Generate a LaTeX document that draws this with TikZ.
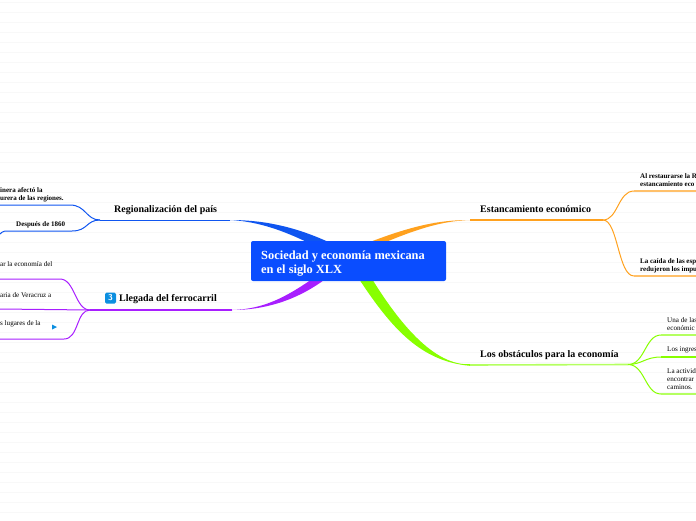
\documentclass[tikz,border=0pt]{standalone}
\usepackage{fontspec}
\setmainfont{Liberation Serif}
\definecolor{rulecol}{HTML}{F8F8F8}
\definecolor{rootcol}{HTML}{0A4DFF}
\definecolor{bluecol}{HTML}{0F55F0}
\definecolor{orangecol}{HTML}{FFA11E}
\definecolor{orangesoft}{HTML}{FFC06A}
\definecolor{purplecol}{HTML}{A81EFF}
\definecolor{greencol}{HTML}{88FF00}
\definecolor{greensoft}{HTML}{B4FF60}
\definecolor{iconcol}{HTML}{0C8FE0}
\tikzset{
  treenode/.style = {inner sep=0pt, align=left, text=black},
  root_node/.style = {treenode, rectangle, fill=rootcol, rounded corners=2pt,
    minimum width=195pt, minimum height=40pt},% caja central
  root_text/.style = {treenode, text=white, font=\fontsize{12.4}{14}\selectfont\bfseries},
  topic_node/.style = {treenode, anchor=base west, font=\fontsize{10}{12}\selectfont\bfseries},
  bold_leaf/.style = {treenode, anchor=base west, font=\fontsize{7}{8}\selectfont\bfseries},
  thin_leaf/.style = {treenode, anchor=base west, font=\fontsize{7.1}{8}\selectfont},
  sub_line/.style = {line width=1pt},
  icon_node/.style = {inner sep=0pt, fill=iconcol, rounded corners=1.5pt, text=white,
    minimum width=11pt, minimum height=11pt, font=\fontsize{8.5}{9}\selectfont\bfseries\sffamily}
}
\begin{document}
\begin{tikzpicture}[x=1pt, y=-1pt]
    \useasboundingbox (0,0) rectangle (696,520);
    \clip (0,0) rectangle (696,520);
    % lineas de fondo
    \foreach \y in {0,...,51} {
      \draw [rulecol, line width=0.8pt] (0,2.5+10*\y) -- (696,2.5+10*\y);
    }
    % puntos de paso
    \coordinate (reg_in) at (230,220);
    \coordinate (reg_out) at (100,220);
    \coordinate (reg_a) at (0,205);
    \coordinate (reg_b) at (0,234);
    \coordinate (ferro_in) at (232,310);
    \coordinate (ferro_out) at (90,310);
    \coordinate (ferro_a) at (0,279);
    \coordinate (ferro_b) at (0,309);
    \coordinate (ferro_c) at (0,339);
    \coordinate (est_in) at (470,220);
    \coordinate (est_out) at (603,220);
    \coordinate (est_a) at (696,191);
    \coordinate (est_b) at (696,276);
    \coordinate (obs_in) at (470,365);
    \coordinate (obs_out) at (628,364.5);
    \coordinate (obs_a) at (696,335);
    \coordinate (obs_b) at (696,357);
    \coordinate (obs_c) at (696,394);
    % ramas gruesas
    \fill [bluecol] (reg_in) .. controls (275,220) and (310,232) .. (345,250)
      -- (345,262) .. controls (305,240) and (270,222) .. (reg_in);
    \fill [orangecol] (est_in) .. controls (440,220) and (410,225) .. (350,250)
      -- (350,258) .. controls (410,230) and (440,221) .. (est_in);
    \fill [purplecol] (ferro_in) .. controls (265,309) and (290,297) .. (335,262)
      -- (345,262) .. controls (310,297) and (270,310) .. (ferro_in);
    \fill [greencol] ([yshift=-0.8pt]obs_in) .. controls (415,361) and (385,320) .. (348,262)
      -- (362,262) .. controls (398,325) and (435,366) .. ([yshift=0.8pt]obs_in) -- cycle;
    \node [root_node] (root) at (348.5,261) {};
    \node [root_text, anchor=base west] (root_a) at (261,259) {Sociedad y economía mexicana};
    \node [root_text, anchor=base west] (root_b) at (261,273) {en el siglo XLX};
    % rama azul
    \draw [bluecol, sub_line] (reg_in) -- (reg_out);
    \draw [bluecol, sub_line] (reg_out) .. controls (86,220) and (86,205) .. (70,205) -- (reg_a);
    \draw [bluecol, sub_line] (reg_out) .. controls (86,220) and (88,231) .. (72,231) -- (5,231)
      .. controls (2,231) and (2,233) .. (reg_b);
    % rama morada
    \draw [purplecol, line width=1.2pt] (ferro_in) -- (ferro_out);
    \draw [purplecol, sub_line] (ferro_out) .. controls (75,310) and (75,279) .. (60,279) -- (ferro_a);
    \draw [purplecol, sub_line] (ferro_out) -- (ferro_b);
    \draw [purplecol, sub_line] (ferro_out) .. controls (76,310) and (79,339) .. (64,339) -- (ferro_c);
    % rama naranja
    \draw [orangecol, line width=1.2pt] (est_in) -- (est_out);
    \draw [orangecol, sub_line] (est_out) .. controls (618,220) and (618,191) .. (634,191);
    \draw [orangesoft, line width=1.4pt] (634,191) -- (est_a);
    \draw [orangecol, sub_line] (est_out) .. controls (618,220) and (618,276) .. (634,276);
    \draw [orangesoft, line width=1.4pt] (634,276) -- (est_b);
    % rama verde
    \draw [greensoft, line width=1.6pt] (obs_in) -- (obs_out);
    \draw [greencol, sub_line] (obs_out) .. controls (645,364.5) and (645,335) .. (661,335);
    \draw [greensoft, line width=1.4pt] (661,335) -- (obs_a);
    \draw [greencol, sub_line] (obs_out) .. controls (642,364.5) and (645,357) .. (661,357);
    \draw [greencol, line width=1.2pt] (661,357) -- (obs_b);
    \draw [greencol, sub_line] (obs_out) .. controls (645,364.5) and (645,394) .. (661,394);
    \draw [greensoft, line width=1.4pt] (661,394) -- (obs_c);
    % textos
    \node [topic_node] (reg_text) at (114,212) {Regionalización del país};
    \node [icon_node] (ferro_icon) at (110.5,298) {3};
    \node [topic_node] (ferro_text) at (119,301) {Llegada del ferrocarril};
    \node [topic_node] (est_text) at (480,212) {Estancamiento económico};
    \node [topic_node] (obs_text) at (480,357) {Los obstáculos para la economía};
    \node [bold_leaf] (reg_t1) at (0,192) {inera afectó la};
    \node [bold_leaf] (reg_t2) at (0,200) {urera de las regiones.};
    \node [bold_leaf] (reg_t3) at (16,226) {Después de 1860};
    \node [thin_leaf] (ferro_t1) at (0,266) {ar la economía del};
    \node [thin_leaf] (ferro_t2) at (0,297) {aria de Veracruz a};
    \node [thin_leaf] (ferro_t3) at (0,325) {s lugares de la};
    \node [bold_leaf] (est_t1) at (640,178) {Al restaurarse la R};
    \node [bold_leaf] (est_t2) at (640,186) {estancamiento eco};
    \node [bold_leaf] (est_t3) at (640,263) {La caída de las esp};
    \node [bold_leaf] (est_t4) at (640,271) {redujeron los impu};
    \node [thin_leaf] (obs_t1) at (667,322) {Una de las};
    \node [thin_leaf] (obs_t2) at (667,330) {económic};
    \node [thin_leaf] (obs_t3) at (667,351) {Los ingres};
    \node [thin_leaf] (obs_t4) at (667,373) {La activid};
    \node [thin_leaf] (obs_t5) at (667,381) {encontrar};
    \node [thin_leaf] (obs_t6) at (667,389) {caminos.};
    \fill [iconcol] (52,324.5) -- (57,327) -- (52,329.5) -- cycle;
\end{tikzpicture}
\end{document}
